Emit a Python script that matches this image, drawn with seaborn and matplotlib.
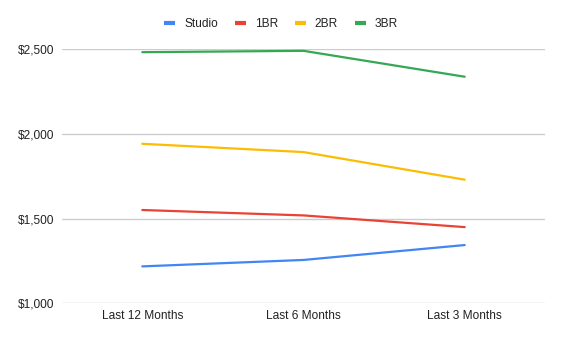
import matplotlib
matplotlib.use("Agg")
import matplotlib.pyplot as plt
import matplotlib.ticker as mticker
import seaborn as sns
import pandas as pd

periods = ["Last 12 Months", "Last 6 Months", "Last 3 Months"]
studio = [1218, 1256, 1344]
one_br = [1551, 1519, 1450]
two_br = [1942, 1893, 1730]
three_br = [2483, 2491, 2338]
series_names = ["Studio", "1BR", "2BR", "3BR"]
colors = ["#4285F4", "#EA4335", "#FBBC04", "#34A853"]
y_ticks = [1000, 1500, 2000, 2500]

df = pd.DataFrame({
    "period": periods * 4,
    "rent": studio + one_br + two_br + three_br,
    "unit": sum([[n] * len(periods) for n in series_names], []),
})

sns.set_theme(style="white")
plt.rcParams["font.family"] = ["Liberation Sans", "DejaVu Sans"]

fig = plt.figure(figsize=(5.62, 3.40), dpi=100)
ax = fig.add_axes([61.7 / 562, 1 - 303.3 / 340, 483.6 / 562, 254 / 340])

sns.lineplot(data=df, x="period", y="rent", hue="unit", palette=colors,
             hue_order=series_names, linewidth=1.6, ax=ax, sort=False,
             legend=False, clip_on=False)

ax.set_xlim(-0.5, 2.5)
ax.set_ylim(y_ticks[0], y_ticks[-1])
ax.set_yticks(y_ticks)
ax.yaxis.set_major_formatter(mticker.FuncFormatter(lambda v, p: f"${v:,.0f}"))
ax.grid(axis="y", color="#cccccc", linewidth=1)
ax.set_axisbelow(True)
for s in ax.spines.values():
    s.set_visible(False)
ax.tick_params(axis="both", length=0, labelsize=8.6, colors="#222222")
ax.tick_params(axis="y", pad=5.5)
ax.tick_params(axis="x", pad=5)
ax.set_xlabel("")
ax.set_ylabel("")

handles = [plt.Line2D([0], [0], color=c, linewidth=3.0, solid_capstyle="butt")
           for c in colors]
fig.legend(handles, series_names, loc="center", bbox_to_anchor=(0.5, 1 - 24 / 340),
           ncol=4, frameon=False, fontsize=8.6, handlelength=0.92,
           handletextpad=0.75, columnspacing=1.4, labelcolor="#222222")

fig.savefig("out.png", dpi=100, facecolor="white")
